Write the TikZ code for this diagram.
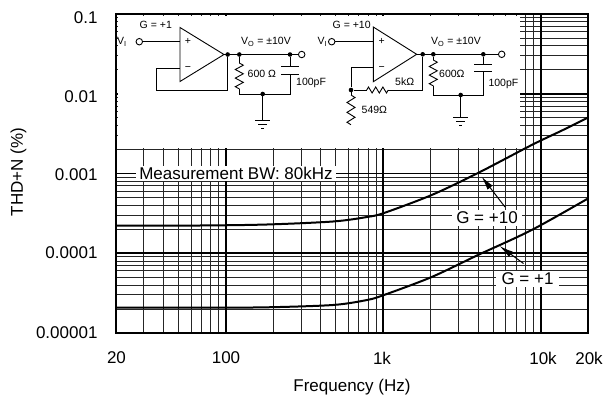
\documentclass[tikz,border=0pt]{standalone}
\usepackage{fontspec}
\setmainfont{Liberation Sans}
\usetikzlibrary{arrows.meta}
\begin{document}
\begin{tikzpicture}[x=1pt,y=-1pt,
  minor/.style={line width=0.95pt,black!85},
  major/.style={line width=1.8pt,black},
  curve/.style={line width=2pt,black,line join=round},
  wire/.style={line width=0.9pt,black,line join=miter},
  dot/.style={circle,fill=black,inner sep=0pt,minimum size=4.6pt},
  term/.style={circle,draw=black,fill=white,line width=0.9pt,inner sep=0pt,minimum size=6.5pt},
  big/.style={font=\fontsize{17}{20}\selectfont},
  small/.style={font=\fontsize{10.5}{12}\selectfont,inner sep=0pt},
  ptr/.style={line width=1pt,-{Latex[length=14pt,width=6.5pt]}},
  vres/.pic={\draw[wire] (0,0) -- ++(4,2.2) -- ++(-8,4.3) -- ++(8,4.3) -- ++(-8,4.3) -- ++(8,4.3) -- ++(-8,4.3) -- ++(4,2.2);},
  hres/.pic={\draw[wire] (0,0) -- ++(1.8,-3) -- ++(3.6,6) -- ++(3.6,-6) -- ++(3.6,6) -- ++(3.6,-6) -- ++(3.6,6) -- ++(1.8,-3);},
  gnd/.pic={\draw[wire] (-7.5,0) -- (7.5,0) (-4.5,4) -- (4.5,4) (-1.5,8) -- (1.5,8);}
]
\useasboundingbox (0,0) rectangle (606,396);
\fill[white] (0,0) rectangle (606,396);

% ---------- grid ----------
\foreach \e in {1,2,3}{
  \foreach \m in {2,...,9}{
    \pgfmathsetmacro\gx{116+157.33*(log10(\m)+\e-1.30103)}
    \draw[minor] (\gx,14) -- (\gx,333);
  }
}
\foreach \d in {0,1,2,3}{
  \foreach \k in {2,...,9}{
    \pgfmathsetmacro\gy{14+79.75*(\d+1-log10(\k))}
    \draw[minor] (116,\gy) -- (588,\gy);
  }
}
\foreach \gx in {226.02,383.35,540.68} \draw[major] (\gx,14) -- (\gx,333);
\foreach \gy in {93.75,173.5,253.25} \draw[major] (116,\gy) -- (588,\gy);

% ---------- inset background ----------
\fill[white] (117.5,16.5) rectangle (520,148.4);

% ---------- curves ----------
\draw[curve] plot[smooth,tension=0.5] coordinates {(116,225.5) (200,225.5) (267,224.5) (333,221.5) (367,217) (384,213) (431.7,195) (478,173) (531.7,145) (563,130) (588,117.5)};
\draw[curve] plot[smooth,tension=0.5] coordinates {(116,307.7) (200,307.7) (267,307.3) (333,305) (367,300) (384,295) (431.7,277) (478,255) (531.7,230) (588,198.5)};

% ---------- labels in plot ----------
\node[big,fill=white,inner xsep=3pt,inner ysep=1pt] (bw) at (236,173.5) {Measurement BW: 80kHz};
\node[big,fill=white,inner xsep=4pt,inner ysep=2pt] (g10) at (487,218) {G = +10};
\node[big,fill=white,inner xsep=6pt,inner ysep=2pt] (g1) at (527.5,279) {G = +1};
\coordinate (a10s) at (505,207);
\coordinate (a10e) at (481.5,176.5);
\draw[ptr] (a10s) -- (a10e);
\coordinate (a1s) at (523.5,263.5);
\coordinate (a1e) at (499.5,246);
\draw[ptr] (a1s) -- (a1e);

% ---------- frame ----------
\draw[line width=2.6pt] (116,14) rectangle (588,333);

% ---------- axis labels ----------
\node[big,anchor=east] (y1) at (101,18) {0.1};
\node[big,anchor=east] (y2) at (101,96.5) {0.01};
\node[big,anchor=east] (y3) at (101,174.5) {0.001};
\node[big,anchor=east] (y4) at (101,253) {0.0001};
\node[big,anchor=east] (y5) at (101,333) {0.00001};
\node[big] (x1) at (116.5,358) {20};
\node[big] (x2) at (226,358) {100};
\node[big] (x3) at (382,358) {1k};
\node[big] (x4) at (543,358) {10k};
\node[big] (x5) at (589,358) {20k};
\node[big] (xt) at (352,387.5) {Frequency (Hz)};
\node[big,rotate=90] (yt) at (18.5,172) {THD+N (\%)};

% ---------- circuit 1 (G = +1) ----------
\node[small] (c1g) at (155.8,25) {G = +1};
\node[small] (c1vi) at (122,42) {V\textsubscript{I}};
\node[small] (c1vo) at (266,42) {V\textsubscript{O} = ±10V};
\node[term] (c1in) at (139.3,41.7) {};
\draw[wire] (180,27.5) -- (180,81.5) -- (224,54.5) -- cycle;
\node[small] (c1p) at (188,41.5) {+};
\node[small] (c1m) at (188,68.5) {−};
\node[term] (c1out) at (301.7,54.5) {};
\coordinate (c1o) at (224,54.5);
\node[dot] (c1n1) at (227.7,54.5) {};
\node[dot] (c1n2) at (239.3,54.5) {};
\node[dot] (c1n3) at (290,54.5) {};
\draw[wire] (c1in) -- (180,41.7);
\draw[wire] (c1o) -- (c1out);
\draw[wire] (c1n1) -- (227.7,90) -- (156.7,90) -- (156.7,68.3) -- (180,68.3);
\draw[wire] (c1n2) -- (239.3,63);
\pic at (239.3,63) {vres};
\node[dot] (c1gn) at (262.7,94) {};
\draw[wire] (239.3,88.9) -- (239.3,94) -- (290,94) -- (290,74);
\draw[wire] (c1n3) -- (290,66);
\draw[wire] (281,66) -- (299,66) (281,74) -- (299,74);
\draw[wire] (c1gn) -- (262.7,120);
\pic at (262.7,120) {gnd};
\node[small,anchor=west] (c1r) at (247.5,73.5) {600 Ω};
\node[small,anchor=west] (c1c) at (296,83) {100pF};

% ---------- circuit 2 (G = +10) ----------
\node[small] (c2g) at (351.7,25) {G = +10};
\node[small] (c2vi) at (322.5,42) {V\textsubscript{I}};
\node[small] (c2vo) at (456,42) {V\textsubscript{O} = ±10V};
\node[term] (c2in) at (331.7,41.7) {};
\draw[wire] (373.3,27) -- (373.3,81.7) -- (416.7,54.3) -- cycle;
\node[small] (c2p) at (381.7,41.5) {+};
\node[small] (c2m) at (381.7,68.5) {−};
\coordinate (c2o) at (416.7,54.3);
\node[term] (c2out) at (501.7,54.3) {};
\node[dot] (c2n1) at (422.7,54.3) {};
\node[dot] (c2n2) at (433.3,54.3) {};
\node[dot] (c2n3) at (483.3,54.3) {};
\node[dot] (c2fb) at (351,90) {};
\draw[wire] (c2in) -- (373.3,41.7);
\draw[wire] (c2o) -- (c2out);
\draw[wire] (373.3,67.7) -- (351,67.7) -- (c2fb);
\draw[wire] (c2fb) -- (366.7,90);
\pic at (366.7,90) {hres};
\draw[wire] (388.3,90) -- (422.7,90) -- (c2n1);
\draw[wire] (c2fb) -- (351,95);
\pic[yscale=1.15] at (351,95) {vres};
\draw[wire] (c2n2) -- (433.3,60);
\pic at (433.3,60) {vres};
\node[dot] (c2gn) at (460.7,95) {};
\draw[wire] (433.3,85.9) -- (433.3,95) -- (483.3,95) -- (483.3,71.7);
\draw[wire] (c2n3) -- (483.3,64.3);
\draw[wire] (474.3,64.3) -- (492.3,64.3) (474.3,71.7) -- (492.3,71.7);
\draw[wire] (c2gn) -- (460.7,117);
\pic at (460.7,117) {gnd};
\node[small,anchor=west] (c2r) at (439,73.5) {600Ω};
\node[small,anchor=west] (c2rf) at (395,82) {5kΩ};
\node[small,anchor=west] (c2rg) at (361.5,109.5) {549Ω};
\node[small,anchor=west] (c2c) at (488.3,84) {100pF};
\end{tikzpicture}
\end{document}
